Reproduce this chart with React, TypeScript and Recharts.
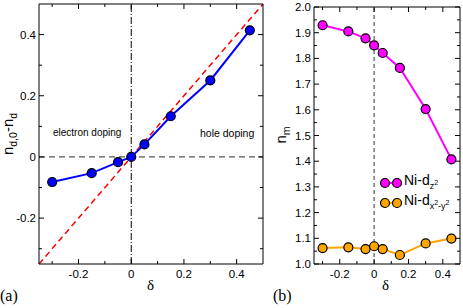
import React from 'react';
import { LineChart, Line, XAxis, YAxis, ReferenceLine } from 'recharts';

// doping values shared by both panels
const delta = [-0.3, -0.15, -0.05, 0, 0.05, 0.15, 0.3, 0.45];
const ndDiff = [-0.082, -0.053, -0.017, 0, 0.041, 0.133, 0.25, 0.414];
const nZ2 = [1.929, 1.905, 1.878, 1.851, 1.821, 1.763, 1.603, 1.407];
const nX2Y2 = [1.062, 1.065, 1.058, 1.069, 1.058, 1.035, 1.08, 1.099];

const xTicks = [-0.3, -0.2, -0.1, 0, 0.1, 0.2, 0.3, 0.4];
const yTicksA = [-0.3, -0.2, -0.1, 0, 0.1, 0.2, 0.3, 0.4];
const yTicksB = [1.0, 1.05, 1.1, 1.15, 1.2, 1.25, 1.3, 1.35, 1.4, 1.45, 1.5, 1.55, 1.6, 1.65, 1.7, 1.75, 1.8, 1.85, 1.9, 1.95, 2.0];

const dataA = delta.map((d, i) => ({ d, v: ndDiff[i] }));
const dataZ2 = delta.map((d, i) => ({ d, v: nZ2[i] }));
const dataX2 = delta.map((d, i) => ({ d, v: nX2Y2[i] }));

const FONT = '"Liberation Sans", Arial, sans-serif';
const SERIF = '"Liberation Serif", "Times New Roman", serif';

const onStep = (v: number, step: number) => Math.abs(Math.round(v / step) * step - v) < 1e-6;

// ticks drawn inward; labels only on majors
const makeTick = (side: 'bottom' | 'top' | 'left' | 'right', major: (v: number) => boolean, fmt?: (v: number) => string) =>
  (props: any) => {
    const { x, y, payload } = props;
    const v = payload.value as number;
    const len = major(v) ? 5 : 3;
    let x2 = x, y2 = y;
    if (side === 'bottom') y2 = y - len;
    if (side === 'top') y2 = y + len;
    if (side === 'left') x2 = x + len;
    if (side === 'right') x2 = x - len;
    return (
      <g>
        <line x1={x} y1={y} x2={x2} y2={y2} stroke="#000" strokeWidth={1} />
        {fmt && major(v) && side === 'bottom' && (
          <text x={x} y={y + 14} textAnchor="middle" fontSize={11.5} fontFamily={FONT} fill="#000">{fmt(v)}</text>
        )}
        {fmt && major(v) && side === 'left' && (
          <text x={x - 3} y={y + 4} textAnchor="end" fontSize={11.5} fontFamily={FONT} fill="#000">{fmt(v)}</text>
        )}
      </g>
    );
  };

const fmtX = (v: number) => (Math.abs(v) < 1e-9 ? '0' : v.toFixed(1));
const majX = (v: number) => onStep(v, 0.2);
const majB = (v: number) => onStep(v, 0.1);

const dot = (fill: string) => ({ r: 4.5, fill, stroke: '#000', strokeWidth: 1.2 });

const Frame = ({ yTicks, yDomain, majY, fmtY }: any) => [
  <XAxis key="xb" xAxisId="b" dataKey="d" type="number" domain={[-0.35, 0.5]} ticks={xTicks} interval={0} height={1}
    tickSize={0} tickMargin={0} tickLine={false} axisLine={{ stroke: '#000' }} tick={makeTick('bottom', majX, fmtX)} allowDataOverflow />,
  <XAxis key="xt" xAxisId="t" orientation="top" dataKey="d" type="number" domain={[-0.35, 0.5]} ticks={xTicks} interval={0} height={1}
    tickSize={0} tickMargin={0} tickLine={false} axisLine={{ stroke: '#000' }} tick={makeTick('top', majX)} allowDataOverflow />,
  <YAxis key="yl" yAxisId="l" type="number" domain={yDomain} ticks={yTicks} interval={0} width={1}
    tickSize={0} tickMargin={0} tickLine={false} axisLine={{ stroke: '#000' }} tick={makeTick('left', majY, fmtY)} allowDataOverflow />,
  <YAxis key="yr" yAxisId="r" orientation="right" type="number" domain={yDomain} ticks={yTicks} interval={0} width={1}
    tickSize={0} tickMargin={0} tickLine={false} axisLine={{ stroke: '#000' }} tick={makeTick('right', majY)} allowDataOverflow />,
];

const LegendBox = () => (
  <div style={{ fontFamily: FONT, fontSize: 14, color: '#000', lineHeight: '20px' }}>
    {[
      { c: '#ff00ff', label: <>Ni-d<sub style={{ fontSize: 9 }}>z<sup style={{ fontSize: 7 }}>2</sup></sub></> },
      { c: '#ffa500', label: <>Ni-d<sub style={{ fontSize: 9 }}>x<sup style={{ fontSize: 7 }}>2</sup>-y<sup style={{ fontSize: 7 }}>2</sup></sub></> },
    ].map((it, i) => (
      <div key={i} style={{ display: 'flex', alignItems: 'center', height: 20 }}>
        <svg width={22} height={12} style={{ marginRight: 2 }}>
          <line x1={5} y1={6} x2={17} y2={6} stroke={it.c} strokeWidth={2} />
          <circle cx={5} cy={6} r={4.5} fill={it.c} stroke="#000" strokeWidth={1.2} />
          <circle cx={17} cy={6} r={4.5} fill={it.c} stroke="#000" strokeWidth={1.2} />
        </svg>
        <span>{it.label}</span>
      </div>
    ))}
  </div>
);

const abs = (s: React.CSSProperties): React.CSSProperties => ({ position: 'absolute', whiteSpace: 'nowrap', ...s });

export default function App() {
  return (
    <div style={{ position: 'absolute', left: 0, top: 0, width: 463, height: 308, background: '#fff' }}>
      <div style={abs({ left: 0, top: 0 })}>
        <LineChart width={270} height={308} margin={{ top: 3, left: 38, right: 6, bottom: 43 }}>
          {Frame({ yTicks: yTicksA, yDomain: [-0.35, 0.5], majY: majX, fmtY: fmtX })}
          <ReferenceLine xAxisId="b" yAxisId="l" y={0} stroke="#555" strokeWidth={1.3} strokeDasharray="6 4" />
          <ReferenceLine xAxisId="b" yAxisId="l" x={0} stroke="#000" strokeWidth={1} strokeDasharray="7 2 1 2" />
          <ReferenceLine xAxisId="b" yAxisId="l" segment={[{ x: -0.35, y: -0.35 }, { x: 0.5, y: 0.5 }]} stroke="#ff0000" strokeWidth={1.5} strokeDasharray="6 4" />
          <Line xAxisId="b" yAxisId="l" data={dataA} dataKey="v" stroke="#0000ff" strokeWidth={2} dot={dot('#0000ff')} isAnimationActive={false} />
        </LineChart>
      </div>
      <div style={abs({ left: 270, top: 0 })}>
        <LineChart width={193} height={308} margin={{ top: 6, left: 43, right: 2, bottom: 43 }}>
          {Frame({ yTicks: yTicksB, yDomain: [1.0, 2.0], majY: majB, fmtY: (v: number) => v.toFixed(1) })}
          <ReferenceLine xAxisId="b" yAxisId="l" x={0} stroke="#555" strokeWidth={1.2} strokeDasharray="4 3" />
          <Line xAxisId="b" yAxisId="l" data={dataZ2} dataKey="v" stroke="#ff00ff" strokeWidth={2} dot={dot('#ff00ff')} isAnimationActive={false} />
          <Line xAxisId="b" yAxisId="l" data={dataX2} dataKey="v" stroke="#ffa500" strokeWidth={2} dot={dot('#ffa500')} isAnimationActive={false} />
        </LineChart>
      </div>

      <div style={abs({ left: 380, top: 173 })}><LegendBox /></div>

      <div style={abs({ left: 53, top: 127, fontFamily: FONT, fontSize: 10 })}>electron doping</div>
      <div style={abs({ left: 200, top: 127, fontFamily: FONT, fontSize: 10.5 })}>hole doping</div>

      <div style={abs({ left: 147, top: 277, fontFamily: SERIF, fontSize: 15 })}>δ</div>
      <div style={abs({ left: 382, top: 277, fontFamily: SERIF, fontSize: 15 })}>δ</div>
      <div style={abs({ left: 0, top: 287, fontFamily: SERIF, fontSize: 16 })}>(a)</div>
      <div style={abs({ left: 273, top: 287, fontFamily: SERIF, fontSize: 16 })}>(b)</div>

      <div style={abs({ left: 9, top: 134, fontFamily: FONT, fontSize: 15, transform: 'translate(-50%, -50%) rotate(-90deg)' })}>
        n<sub style={{ fontSize: 10.5 }}>d,0</sub>-n<sub style={{ fontSize: 10.5 }}>d</sub>
      </div>
      <div style={abs({ left: 282, top: 135, fontFamily: FONT, fontSize: 15, transform: 'translate(-50%, -50%) rotate(-90deg)' })}>
        n<sub style={{ fontSize: 10.5 }}>m</sub>
      </div>
    </div>
  );
}
